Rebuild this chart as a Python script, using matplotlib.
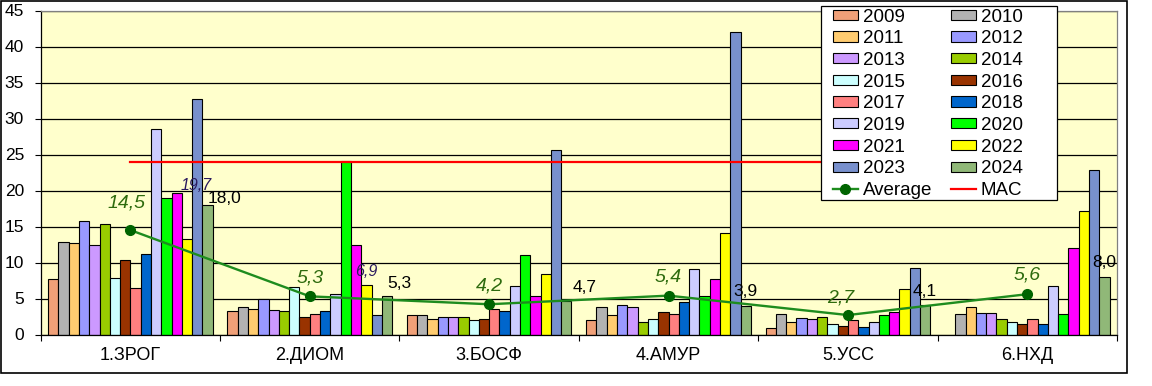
import numpy as np
import matplotlib
matplotlib.use("Agg")
import matplotlib.pyplot as plt
from matplotlib.patches import Rectangle

plt.rcParams['font.family'] = ['Liberation Sans', 'DejaVu Sans']

# --- data ---
stations = ['1.ЗРОГ', '2.ДИОМ', '3.БОСФ', '4.АМУР', '5.УСС', '6.НХД']
years = ['2009', '2010', '2011', '2012', '2013', '2014', '2015', '2016',
         '2017', '2018', '2019', '2020', '2021', '2022', '2023', '2024']

# one row per station, one column per year
zrog = [7.7, 12.8, 12.7, 15.7, 12.4, 15.4, 7.9, 10.4, 6.4, 11.2, 28.5, 18.9, 19.7, 13.2, 32.7, 18.0]
diom = [3.2, 3.8, 3.5, 4.9, 3.4, 3.2, 6.6, 2.5, 2.9, 3.2, 5.6, 24.1, 12.5, 6.9, 2.7, 5.3]
bosf = [2.7, 2.7, 2.1, 2.4, 2.4, 2.5, 2.0, 2.2, 3.5, 3.2, 6.8, 11.0, 5.3, 8.4, 25.6, 4.7]
amur = [2.0, 3.8, 2.7, 4.1, 3.8, 1.7, 2.1, 3.1, 2.9, 4.5, 9.1, 5.3, 7.7, 14.1, 42.0, 3.9]
uss = [0.9, 2.8, 1.7, 2.3, 2.1, 2.5, 1.4, 1.2, 2.0, 1.1, 1.8, 2.7, 3.1, 6.3, 9.2, 4.1]
nhd = [np.nan, 2.8, 3.8, 3.0, 3.0, 2.2, 1.7, 1.4, 2.1, 1.4, 6.8, 2.9, 12.0, 17.1, 22.9, 8.0]
values = np.array([zrog, diom, bosf, amur, uss, nhd])

average = [14.5, 5.3, 4.2, 5.4, 2.7, 5.6]
mac = [24, 24, 24, 24, 24, 24]

colors = ['#F0A078', '#B2B2B2', '#FFCC70', '#9999FF', '#CC99FF', '#99CC00',
          '#CCFFFF', '#993300', '#FF8080', '#0066CC', '#CCCCFF', '#00FF00',
          '#FF00FF', '#FFFF00', '#7890CD', '#90B878']

# label placement (pixel offsets from the point / bar top)
avg_offsets = [(-4, 23), (0, 14), (0, 14), (0, 14), (-7, 13), (0, 15)]
last_offsets = [(17, 2), (12, 8), (18, 9), (0, 10), (0, 9), (0, 10)]
extra_labels = [(0, 12, 19, 3), (1, 13, 0, 9)]  # (station, year idx, dx, dy)

PX = 72 / 100  # pixels -> points
W, H = 1152, 386

fig = plt.figure(figsize=(11.52, 3.86), dpi=100)
ax = fig.add_axes([40.7 / W, 51.5 / H, (1117 - 40.7) / W, 324 / H])
ax.set_facecolor('#FFFFCC')

x = np.arange(len(stations))
nb = len(years)
bw = 0.918 / nb
bars = []
for j in range(nb):
    pos = x - 0.459 + bw * (j + 0.5)
    b = ax.bar(pos, values[:, j], bw, color=colors[j], edgecolor='black',
               linewidth=0.8, zorder=2, label=years[j])
    bars.append(b)

avg_line, = ax.plot(x, average, color='#1E8C1E', lw=1.7, marker='o',
                    markersize=7, markerfacecolor='#006400',
                    markeredgecolor='#006400', zorder=4, label='Average')
mac_line, = ax.plot(x, mac, color='red', lw=1.6, zorder=3, label='MAC')

# average labels
for i, v in enumerate(average):
    dx, dy = avg_offsets[i]
    ax.annotate(f'{v:.1f}'.replace('.', ','), (x[i], v),
                xytext=(dx * PX, dy * PX), textcoords='offset points',
                ha='center', va='baseline', fontsize=14, style='italic',
                color='#2E6B0E', zorder=6)

# 2024 labels
for i in range(len(stations)):
    v = values[i, -1]
    xb = x[i] - 0.459 + bw * (nb - 0.5)
    dx, dy = last_offsets[i]
    ax.annotate(f'{v:.1f}'.replace('.', ','), (xb, v),
                xytext=(dx * PX, dy * PX), textcoords='offset points',
                ha='center', va='baseline', fontsize=12.5, color='black', zorder=6)

for i, j, dx, dy in extra_labels:
    v = values[i, j]
    xb = x[i] - 0.459 + bw * (j + 0.5)
    ax.annotate(f'{v:.1f}'.replace('.', ','), (xb, v),
                xytext=(dx * PX, dy * PX), textcoords='offset points',
                ha='center', va='baseline', fontsize=11.5, style='italic',
                color='#2A1A5E', zorder=6)

ax.set_xlim(-0.5, len(stations) - 0.5)
ax.set_ylim(0, 45)
ax.set_yticks(np.arange(0, 46, 5))
ax.yaxis.grid(True, color='black', lw=0.9)
ax.set_axisbelow(True)
ax.tick_params(axis='y', direction='out', length=4, width=0.8, pad=8, labelsize=12.5)

ax.set_xticks(np.arange(-0.5, len(stations), 1.0))
ax.set_xticklabels([])
ax.set_xticks(x, minor=True)
ax.set_xticklabels(stations, minor=True, fontsize=13)
ax.tick_params(axis='x', which='major', direction='out', length=4, width=0.8)
ax.tick_params(axis='x', which='minor', length=0, pad=9)

for s in ['left', 'bottom']:
    ax.spines[s].set_color('black')
    ax.spines[s].set_linewidth(0.9)
for s in ['top', 'right']:
    ax.spines[s].set_color('#808080')
    ax.spines[s].set_linewidth(0.9)

# legend box (fixed size, like the original)
ax.add_patch(Rectangle((821 / W, (H - 200) / H), 236 / W, 194 / H,
                       transform=fig.transFigure, facecolor='white',
                       edgecolor='black', lw=0.9, zorder=9, clip_on=False))

# legend, filled row by row
order_l = [bars[k] for k in range(0, nb, 2)] + [avg_line]
order_r = [bars[k] for k in range(1, nb, 2)] + [mac_line]
leg = ax.legend(order_l + order_r,
                [h.get_label() for h in order_l + order_r],
                ncol=2, loc='upper left',
                bbox_to_anchor=(833 / W, 1 - 8.5 / H),
                bbox_transform=fig.transFigure, borderaxespad=0,
                fontsize=13.5, frameon=False, handlelength=1.33,
                handleheight=0.46, handletextpad=0.25, columnspacing=1.02,
                labelspacing=0.25, borderpad=0)
leg.set_zorder(10)

# outer chart frame
fig.patches.append(Rectangle((1 / W, 13 / H), 1126 / W, 372 / H,
                             transform=fig.transFigure, fill=False,
                             edgecolor='black', lw=1.2))

fig.savefig('out.png', dpi=100)
